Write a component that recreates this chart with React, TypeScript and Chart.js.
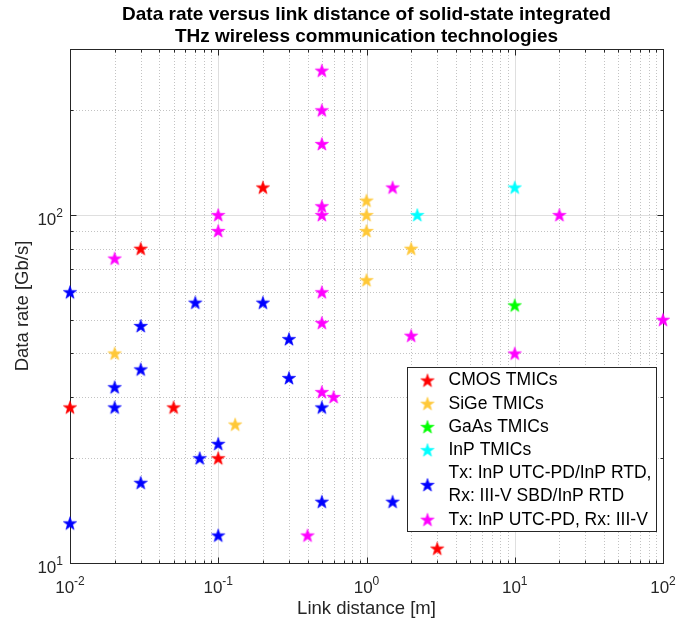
import React, { useEffect, useRef } from "react";
import { Chart, registerables } from "chart.js";

Chart.register(...registerables);

// ---- data (link distance [m], data rate [Gb/s]) ----
const cmosDist = [0.01, 0.03, 0.05, 0.1, 0.2, 3];
const cmosRate = [28, 80, 28, 20, 120, 11];

const sigeDist = [0.02, 0.13, 1, 1, 1, 1, 2];
const sigeRate = [40, 25, 110, 100, 90, 65, 80];

const gaasDist = [10];
const gaasRate = [55];

const inpDist = [2.2, 10];
const inpRate = [100, 120];

const rtdDist = [0.01, 0.01, 0.02, 0.02, 0.03, 0.03, 0.03, 0.07, 0.075, 0.1, 0.1, 0.2, 0.3, 0.3, 0.5, 0.5, 1.5];
const rtdRate = [60, 13, 32, 28, 48, 36, 17, 56, 20, 22, 12, 56, 44, 34, 28, 15, 15];

const utcDist = [0.02, 0.1, 0.1, 0.4, 0.5, 0.5, 0.5, 0.5, 0.5, 0.5, 0.5, 0.5, 0.6, 1.5, 2, 10, 20, 100];
const utcRate = [75, 100, 90, 12, 260, 200, 160, 106, 100, 60, 49, 31, 30, 120, 45, 40, 100, 50];

const seriesLabels = [
  "CMOS TMICs",
  "SiGe TMICs",
  "GaAs TMICs",
  "InP TMICs",
  "Tx: InP UTC-PD/InP RTD,\nRx: III-V SBD/InP RTD",
  "Tx: InP UTC-PD, Rx: III-V",
];
const seriesColors = ["#ff0000", "#ffc837", "#00ff00", "#00ffff", "#0000ff", "#ff00ff"];

const titleLines = [
  "Data rate versus link distance of solid-state integrated",
  "THz wireless communication technologies",
];
const xAxisTitle = "Link distance [m]";
const yAxisTitle = "Data rate [Gb/s]";
const xTickExps = [-2, -1, 0, 1, 2];
const yTickExps = [1, 2];
const xMin = 0.01, xMax = 100, yMin = 10, yMax = 300;

const FONT = '"Liberation Sans", Arial, Helvetica, sans-serif';
const AXC = "#262626";

function makeStar(color: string, r: number) {
  const size = Math.ceil(r * 2 + 2);
  const c = document.createElement("canvas");
  c.width = size;
  c.height = size;
  const ctx = c.getContext("2d")!;
  const cx = size / 2, cy = size / 2 + 0.5;
  const ri = r * 0.40;
  ctx.beginPath();
  for (let i = 0; i < 10; i++) {
    const a = -Math.PI / 2 + (i * Math.PI) / 5;
    const rr = i % 2 === 0 ? r : ri;
    ctx.lineTo(cx + rr * Math.cos(a), cy + rr * Math.sin(a));
  }
  ctx.closePath();
  ctx.fillStyle = color;
  ctx.fill();
  ctx.strokeStyle = color;
  ctx.lineWidth = 0.6;
  ctx.stroke();
  return c;
}

function toPoints(xs: number[], ys: number[]) {
  return xs.map((x, i) => ({ x, y: ys[i] }));
}

const matlabPlugin = {
  id: "matlabAxes",
  beforeDatasetsDraw(chart: any) {
    const { ctx, chartArea, scales } = chart;
    const { left, right, top, bottom } = chartArea;
    const xs = scales.x, ys = scales.y;
    ctx.save();
    // minor grid (dotted)
    ctx.strokeStyle = "rgba(38,38,38,0.28)";
    ctx.lineWidth = 1;
    ctx.setLineDash([1, 2]);
    for (let e = -2; e < 2; e++) {
      for (let m = 2; m <= 9; m++) {
        const px = Math.round(xs.getPixelForValue(m * Math.pow(10, e))) + 0.5;
        ctx.beginPath(); ctx.moveTo(px, top); ctx.lineTo(px, bottom); ctx.stroke();
      }
    }
    for (let e = 1; e < 3; e++) {
      for (let m = 2; m <= 9; m++) {
        const v = m * Math.pow(10, e);
        if (v > yMax) continue;
        const py = Math.round(ys.getPixelForValue(v)) + 0.5;
        ctx.beginPath(); ctx.moveTo(left, py); ctx.lineTo(right, py); ctx.stroke();
      }
    }
    // major grid (solid)
    ctx.setLineDash([]);
    ctx.strokeStyle = "rgba(38,38,38,0.15)";
    for (const e of xTickExps) {
      const px = Math.round(xs.getPixelForValue(Math.pow(10, e))) + 0.5;
      ctx.beginPath(); ctx.moveTo(px, top); ctx.lineTo(px, bottom); ctx.stroke();
    }
    for (const e of yTickExps) {
      const py = Math.round(ys.getPixelForValue(Math.pow(10, e))) + 0.5;
      ctx.beginPath(); ctx.moveTo(left, py); ctx.lineTo(right, py); ctx.stroke();
    }
    // box
    ctx.strokeStyle = AXC;
    ctx.lineWidth = 1;
    const L = Math.round(left) + 0.5, R = Math.round(right) + 0.5;
    const T = Math.round(top) + 0.5, B = Math.round(bottom) + 0.5;
    ctx.strokeRect(L, T, R - L, B - T);
    // ticks
    const tick = (len: number, px: number, vertical: boolean) => {
      if (vertical) {
        ctx.beginPath(); ctx.moveTo(px, B); ctx.lineTo(px, B - len); ctx.stroke();
        ctx.beginPath(); ctx.moveTo(px, T); ctx.lineTo(px, T + len); ctx.stroke();
      } else {
        ctx.beginPath(); ctx.moveTo(L, px); ctx.lineTo(L + len, px); ctx.stroke();
        ctx.beginPath(); ctx.moveTo(R, px); ctx.lineTo(R - len, px); ctx.stroke();
      }
    };
    for (let e = -2; e < 2; e++) {
      for (let m = 2; m <= 9; m++) tick(3, Math.round(xs.getPixelForValue(m * Math.pow(10, e))) + 0.5, true);
    }
    for (const e of xTickExps) tick(6, Math.round(xs.getPixelForValue(Math.pow(10, e))) + 0.5, true);
    for (let e = 1; e < 3; e++) {
      for (let m = 2; m <= 9; m++) {
        const v = m * Math.pow(10, e);
        if (v > yMax) continue;
        tick(3, Math.round(ys.getPixelForValue(v)) + 0.5, false);
      }
    }
    for (const e of yTickExps) tick(6, Math.round(ys.getPixelForValue(Math.pow(10, e))) + 0.5, false);
    ctx.restore();
  },
  afterDatasetsDraw(chart: any) {
    const { ctx, chartArea, scales } = chart;
    const { left, right, top, bottom } = chartArea;
    const xs = scales.x, ys = scales.y;
    ctx.save();
    ctx.fillStyle = AXC;
    const baseFont = `17px ${FONT}`;
    const expFont = `12px ${FONT}`;
    const expStr = (e: number) => (e < 0 ? "-" + Math.abs(e) : String(e));
    // x tick labels
    ctx.textBaseline = "alphabetic";
    ctx.textAlign = "left";
    for (const e of xTickExps) {
      const px = xs.getPixelForValue(Math.pow(10, e));
      ctx.font = baseFont;
      const w1 = ctx.measureText("10").width;
      ctx.font = expFont;
      const es = expStr(e);
      const w2 = ctx.measureText(es).width;
      const x0 = px - (w1 + w2) / 2;
      ctx.font = baseFont;
      ctx.fillText("10", x0, bottom + 30);
      ctx.font = expFont;
      ctx.fillText(es, x0 + w1, bottom + 22);
    }
    // y tick labels
    for (const e of yTickExps) {
      const py = ys.getPixelForValue(Math.pow(10, e));
      ctx.font = expFont;
      const es = expStr(e);
      const w2 = ctx.measureText(es).width;
      ctx.font = baseFont;
      const w1 = ctx.measureText("10").width;
      const xr = left - 7;
      ctx.fillText("10", xr - w2 - w1, py + 10);
      ctx.font = expFont;
      ctx.fillText(es, xr - w2, py + 2);
    }
    // axis titles
    ctx.font = `18.5px ${FONT}`;
    ctx.textAlign = "center";
    ctx.textBaseline = "middle";
    ctx.fillText(xAxisTitle, (left + right) / 2, bottom + 46);
    ctx.save();
    ctx.translate(left - 47, (top + bottom) / 2);
    ctx.rotate(-Math.PI / 2);
    ctx.fillText(yAxisTitle, 0, 0);
    ctx.restore();
    // title
    ctx.fillStyle = "#000000";
    ctx.font = `bold 19px ${FONT}`;
    ctx.fillText(titleLines[0], (left + right) / 2, 15);
    ctx.fillText(titleLines[1], (left + right) / 2, 37);

    // legend
    const bx = 407.5, by = 367.5, bw = 249, bh = 164;
    ctx.fillStyle = "#ffffff";
    ctx.fillRect(bx, by, bw, bh);
    ctx.strokeStyle = AXC;
    ctx.lineWidth = 1;
    ctx.strokeRect(bx, by, bw, bh);
    ctx.font = `17.5px ${FONT}`;
    ctx.textAlign = "left";
    ctx.textBaseline = "middle";
    ctx.fillStyle = "#000000";
    let yy = by + 13;
    const lineH = 23.2;
    chart.data.datasets.forEach((ds: any) => {
      const lines = String(ds.label).split("\n");
      const cy = yy + ((lines.length - 1) * lineH) / 2;
      const img = ds.pointStyle as HTMLCanvasElement;
      ctx.drawImage(img, bx + 20 - img.width / 2, cy - img.height / 2);
      lines.forEach((ln: string, i: number) => ctx.fillText(ln, bx + 41, yy + i * lineH));
      yy += lines.length * lineH;
    });
    ctx.restore();
  },
};

export default function App() {
  const ref = useRef<HTMLCanvasElement | null>(null);
  useEffect(() => {
    const canvas = ref.current!;
    const xsArr = [cmosDist, sigeDist, gaasDist, inpDist, rtdDist, utcDist];
    const ysArr = [cmosRate, sigeRate, gaasRate, inpRate, rtdRate, utcRate];
    const datasets = seriesLabels.map((label, i) => ({
      label,
      data: toPoints(xsArr[i], ysArr[i]),
      pointStyle: makeStar(seriesColors[i], 7),
      pointRadius: 6,
      pointHoverRadius: 6,
      backgroundColor: seriesColors[i],
      borderColor: seriesColors[i],
      showLine: false,
      clip: false as any,
    }));
    const chart = new Chart(canvas, {
      type: "scatter",
      data: { datasets },
      options: {
        animation: false,
        responsive: false,
        events: [],
        layout: { padding: { left: 70, top: 49, right: 36, bottom: 63 } },
        scales: {
          x: { type: "logarithmic", min: xMin, max: xMax, display: false },
          y: { type: "logarithmic", min: yMin, max: yMax, display: false },
        },
        plugins: {
          legend: { display: false },
          tooltip: { enabled: false },
          title: { display: false },
        },
      },
      plugins: [matlabPlugin],
    });
    return () => chart.destroy();
  }, []);
  return (
    <div style={{ position: "fixed", left: 0, top: 0, width: 699, height: 626, background: "#ffffff" }}>
      <canvas ref={ref} width={699} height={626} style={{ display: "block", width: 699, height: 626 }} />
    </div>
  );
}
